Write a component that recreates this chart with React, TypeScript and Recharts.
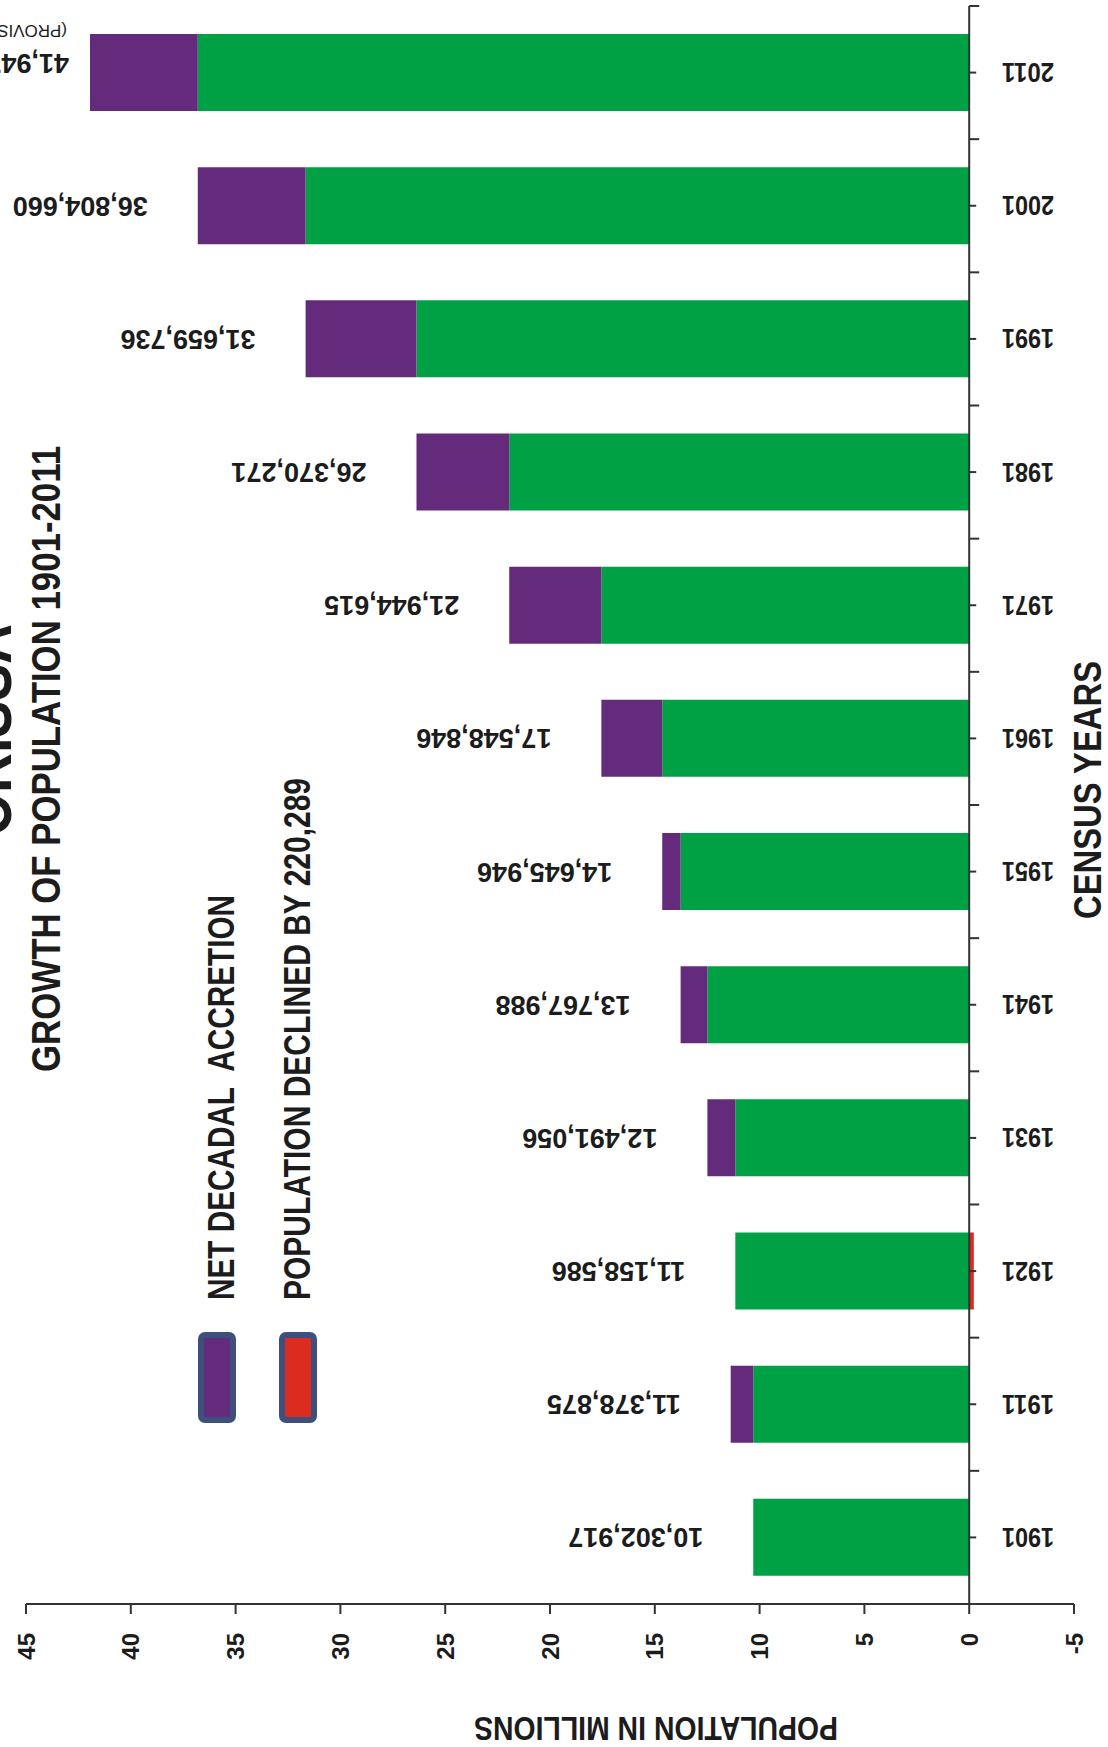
import { BarChart, Bar, XAxis, YAxis, ReferenceLine, LabelList } from 'recharts';

const YEARS = ['1901', '1911', '1921', '1931', '1941', '1951', '1961', '1971', '1981', '1991', '2001', '2011'];
const POPULATION = [
  10302917, 11378875, 11158586, 12491056, 13767988, 14645946,
  17548846, 21944615, 26370271, 31659736, 36804660, 41947358,
];
const X_TICKS = [-5, 0, 5, 10, 15, 20, 25, 30, 35, 40, 45];

const GREEN = '#00a045';
const PURPLE = '#642a7b';
const RED = '#dc2b1f';
const INK = '#1c1c1c';
const NUM_FONT = "'Liberation Sans', Arial, sans-serif";
const NARROW_FONT = "'Liberation Sans Narrow', 'Liberation Sans', Arial, sans-serif";

const W = 1108;
const H = 1747;
const Y_AXIS_W = 34;
const M = { top: 6, right: 0, bottom: 113, left: 26 };
const X_AXIS_H = 30;
const PLOT_W = W - M.left - M.right - Y_AXIS_W;
const PLOT_H = H - M.top - M.bottom - X_AXIS_H;
const ZERO_X = M.left + (45 / 50) * PLOT_W;
const BAND = PLOT_H / YEARS.length;
const LAST_TOTAL = POPULATION[POPULATION.length - 1];

// green = previous census, purple = growth, red = loss (1921)
const chartData = YEARS.map((year, i) => {
  const pop = POPULATION[i] / 1e6;
  const prev = i > 0 ? POPULATION[i - 1] / 1e6 : pop;
  return {
    year,
    base: Math.min(pop, prev),
    accretion: Math.max(pop - prev, 0),
    decline: Math.min(pop - prev, 0),
    totalM: pop,
    total: POPULATION[i],
  };
});

const ValueTick = (props: any) => {
  const { x, y, payload } = props;
  return (
    <text
      transform={`translate(${x},${y + 17}) rotate(-90)`}
      textAnchor="end"
      dominantBaseline="central"
      fontFamily={NUM_FONT}
      fontWeight="bold"
      fontSize={24}
      fill={INK}
    >
      {payload.value}
    </text>
  );
};

const YearTick = (props: any) => {
  const { y, payload } = props;
  return (
    <g>
      <line x1={ZERO_X} x2={ZERO_X + 7} y1={y} y2={y} stroke="#333" strokeWidth={2} />
      <line x1={ZERO_X} x2={ZERO_X + 10} y1={y - BAND / 2} y2={y - BAND / 2} stroke="#333" strokeWidth={2} />
      <text
        transform={`translate(1028,${y}) rotate(180)`}
        textAnchor="middle"
        dominantBaseline="central"
        fontFamily={NARROW_FONT}
        fontWeight="bold"
        fontSize={28}
        fill={INK}
        textLength={52}
        lengthAdjust="spacingAndGlyphs"
      >
        {payload.value}
      </text>
    </g>
  );
};

const TotalLabel = (props: any) => {
  const { x, y, width, height, value } = props;
  const left = Math.min(x, x + width);
  const cy = y + height / 2;
  const last = value === LAST_TOTAL;
  const ax = left - (last ? 21 : 50);
  const ay = last ? cy - 10 : cy;
  return (
    <g>
      <text
        transform={`translate(${ax},${ay}) rotate(180)`}
        textAnchor="start"
        dominantBaseline="central"
        fontFamily={NUM_FONT}
        fontWeight="bold"
        fontSize={27}
        fill={INK}
      >
        {Number(value).toLocaleString('en-US')}
      </text>
      {last && (
        <text
          transform={`translate(${ax - 2},${cy - 42}) rotate(180)`}
          textAnchor="start"
          dominantBaseline="central"
          fontFamily={NUM_FONT}
          fontSize={17}
          fill={INK}
        >
          (PROVISIONAL)
        </text>
      )}
    </g>
  );
};

const rotText = (
  label: string,
  x: number,
  y: number,
  angle: number,
  size: number,
  length: number,
  anchor: 'start' | 'middle' | 'end' = 'middle',
) => (
  <text
    transform={`translate(${x},${y}) rotate(${angle})`}
    textAnchor={anchor}
    fontFamily={NARROW_FONT}
    fontWeight="bold"
    fontSize={size}
    fill={INK}
    textLength={length}
    lengthAdjust="spacingAndGlyphs"
  >
    {label}
  </text>
);

export default function App() {
  return (
    <div style={{ position: 'absolute', left: 0, top: 0, width: W, height: H, background: '#fff' }}>
      <BarChart
        width={W}
        height={H}
        data={chartData}
        layout="vertical"
        margin={M}
        stackOffset="sign"
      >
        <XAxis
          type="number"
          domain={[-5, 45]}
          ticks={X_TICKS}
          reversed
          height={X_AXIS_H}
          axisLine={{ stroke: '#333', strokeWidth: 2 }}
          tickLine={{ stroke: '#333', strokeWidth: 2 }}
          tickSize={10}
          tick={<ValueTick />}
          interval={0}
        />
        <YAxis
          type="category"
          dataKey="year"
          orientation="right"
          reversed
          width={Y_AXIS_W}
          axisLine={false}
          tickLine={false}
          tick={<YearTick />}
          interval={0}
        />
        <YAxis yAxisId="tot" type="category" dataKey="year" reversed hide />
        <Bar dataKey="base" stackId="a" fill={GREEN} barSize={77} isAnimationActive={false} />
        <Bar dataKey="accretion" stackId="a" fill={PURPLE} barSize={77} isAnimationActive={false} />
        <Bar dataKey="decline" stackId="a" fill={RED} barSize={77} isAnimationActive={false} />
        <Bar yAxisId="tot" dataKey="totalM" fill="none" barSize={77} isAnimationActive={false}>
          <LabelList dataKey="total" content={<TotalLabel />} />
        </Bar>
        <ReferenceLine x={0} stroke="#333" strokeWidth={2} />
      </BarChart>

      <svg
        width={W}
        height={H}
        style={{ position: 'absolute', left: 0, top: 0, pointerEvents: 'none' }}
      >
        {rotText('ORISSA', 11, 730, -90, 64, 212)}
        {rotText('GROWTH OF POPULATION 1901-2011', 60, 759, -90, 40, 626)}
        {rotText('NET DECADAL\u00a0 ACCRETION', 234, 1300, -90, 36, 405, 'start')}
        {rotText('POPULATION DECLINED BY 220,289', 310, 1300, -90, 36, 522, 'start')}
        {rotText('CENSUS YEARS', 1101, 790, -90, 38, 258)}
        {rotText('POPULATION IN MILLIONS', 656, 1717, 180, 34, 364)}
        <rect x={201} y={1335} width={32} height={85} rx={4} fill={PURPLE} stroke="#3d4f7c" strokeWidth={6} />
        <rect x={282} y={1335} width={32} height={85} rx={4} fill={RED} stroke="#3d4f7c" strokeWidth={6} />
      </svg>
    </div>
  );
}
